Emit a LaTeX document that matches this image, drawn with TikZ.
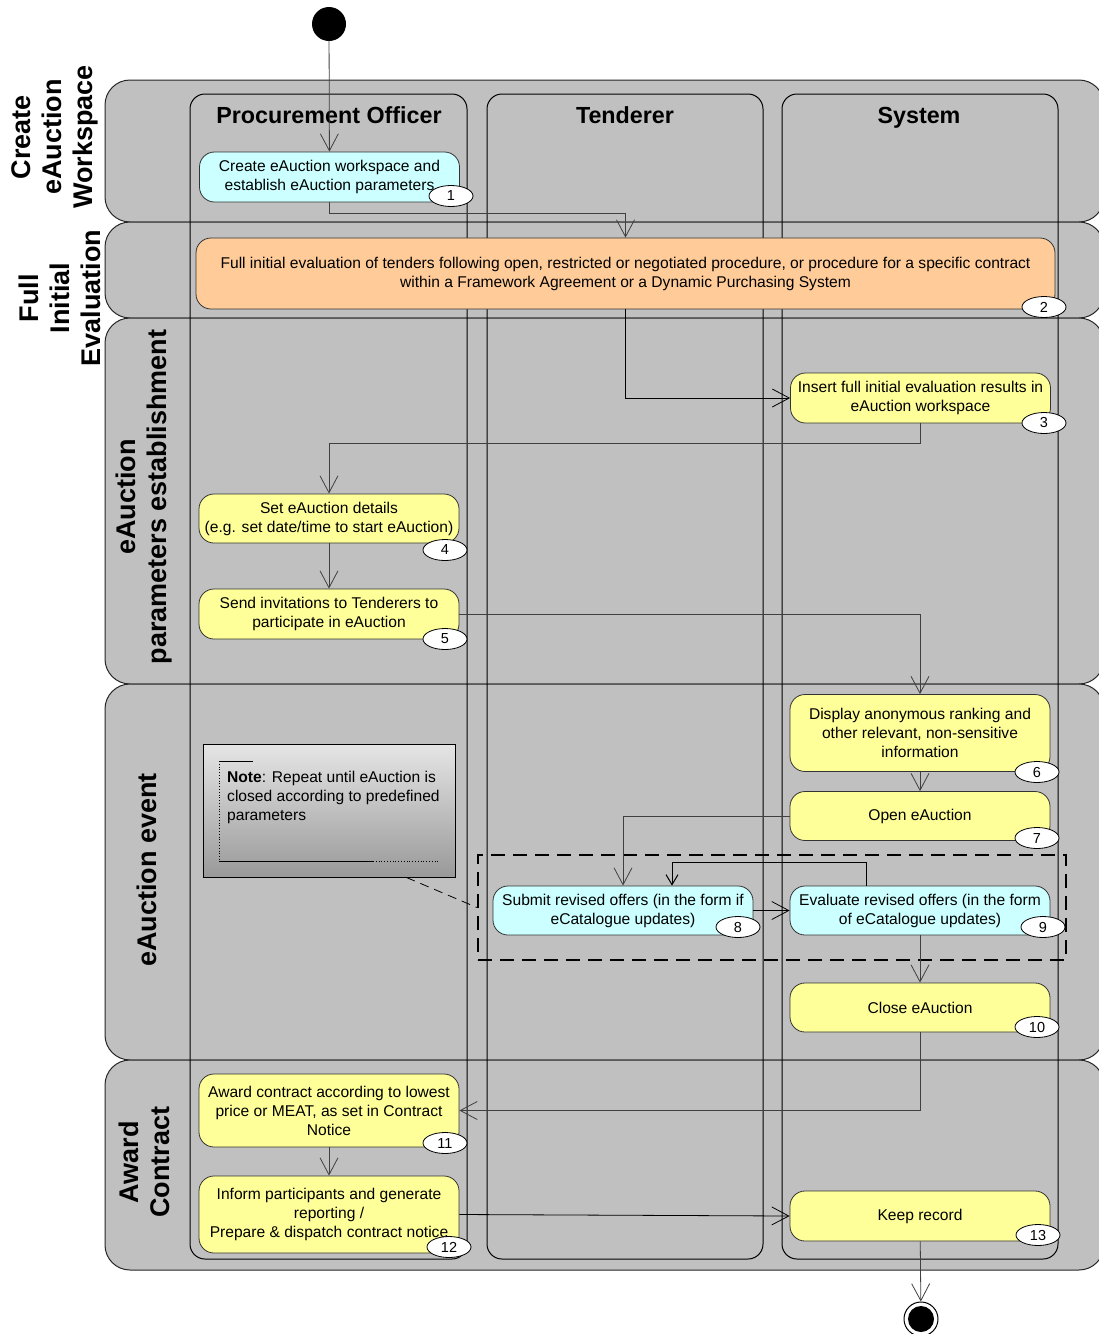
\documentclass[tikz,border=0pt]{standalone}
\usepackage{fontspec}
\setmainfont{Liberation Sans}
\usepackage{tikz}
\usetikzlibrary{
    arrows.meta,
    calc,
    positioning,
    shapes.geometric
}
\definecolor{bandgray}{HTML}{C0C0C0}
\definecolor{taskyellow}{HTML}{FFFF99}
\definecolor{taskcyan}{HTML}{CCFFFF}
\definecolor{taskorange}{HTML}{FFCC99}
\definecolor{flowline}{HTML}{404040}

\begin{document}
\begin{tikzpicture}[x=1pt, y=-1pt,
    band/.style={draw=black!85, fill=bandgray, line width=1pt, rounded corners=25pt},
    lane/.style={draw=black, line width=1pt, rounded corners=15pt},
    phase/.style={rotate=90, align=center, font=\fontsize{27}{31}\selectfont\bfseries},
    header/.style={anchor=base, font=\fontsize{23.3}{27}\selectfont\bfseries},
    act/.style={draw=black!80, line width=0.8pt, rounded corners=15pt,
        minimum width=260pt, minimum height=50pt, align=center, inner sep=2pt,
        font=\fontsize{15.6}{19}\selectfont},
    num/.style={draw=black, fill=white, ellipse, line width=0.8pt, minimum width=44pt,
        minimum height=21pt, inner sep=0pt, font=\fontsize{14.5}{14.5}\selectfont},
    flow/.style={draw=flowline, line width=0.8pt, -{Straight Barb[length=17pt, width=18pt]}},
    backflow/.style={draw=black, line width=1pt, -{Straight Barb[length=10pt, width=12pt]}}
]
    % Canvas
    \useasboundingbox (0,0) rectangle (1099,1334);

    % === Phase bands ===
    \draw[band] (105,80) rectangle (1104,222);
    \draw[band] (105,222) rectangle (1104,318);
    \draw[band] (105,318) rectangle (1104,684);
    \draw[band] (105,684) rectangle (1104,1060);
    \draw[band] (105,1060) rectangle (1104,1270);

    \node[phase] (phCreate) at (55,137) {Create\\eAuction\\Workspace};
    \node[phase] (phEval) at (60,298) {Full\\Initial\\Evaluation};
    \node[phase] (phParam) at (144,497) {eAuction\\parameters establishment};
    \node[phase] (phEvent) at (147,870) {eAuction event};
    \node[phase] (phAward) at (144,1162) {Award\\Contract};

    % === Swimlanes ===
    \draw[lane] (190,94) rectangle (467,1259);
    \draw[lane] (487,94) rectangle (763,1259);
    \draw[lane] (782,94) rectangle (1058,1259);

    \node[header] (hdOfficer) at (329,123) {Procurement Officer};
    \node[header] (hdTenderer) at (625,123) {Tenderer};
    \node[header] (hdSystem) at (919,123) {System};

    % Repeat region
    \node[draw=black, line width=2pt, dash pattern=on 14pt off 8pt,
        minimum width=588pt, minimum height=105pt, inner sep=0pt] (loop) at (772,907.5) {};

    % === Activities ===
    \node[circle, fill=black, minimum size=34pt, inner sep=0pt] (start) at (329,24) {};

    \node[act, fill=taskcyan] (a1) at (329.5,177) {Create eAuction workspace and\\establish eAuction parameters};
    \node[act, fill=taskorange, minimum width=859pt, minimum height=71pt] (a2) at (625.5,273.5)
        {Full initial evaluation of tenders following open, restricted or negotiated procedure, or procedure for a specific contract\\within a Framework Agreement or a Dynamic Purchasing System};
    \node[act, fill=taskyellow] (a3) at (920.5,398) {Insert full initial evaluation results in\\eAuction workspace};
    \node[act, fill=taskyellow, minimum height=49pt] (a4) at (329,518.5) {Set eAuction details\\(e.g. set date/time to start eAuction)};
    \node[act, fill=taskyellow] (a5) at (329,614) {Send invitations to Tenderers to\\participate in eAuction};
    \node[act, fill=taskyellow, minimum height=77pt] (a6) at (920,733) {Display anonymous ranking and\\other relevant, non-sensitive\\information};
    \node[act, fill=taskyellow, minimum height=49pt] (a7) at (920,816) {Open eAuction};
    \node[act, fill=taskcyan, minimum height=49pt] (a8) at (623,910.5) {Submit revised offers (in the form if\\eCatalogue updates)};
    \node[act, fill=taskcyan, minimum height=49pt] (a9) at (920,910.5) {Evaluate revised offers (in the form\\of eCatalogue updates)};
    \node[act, fill=taskyellow, minimum height=49pt] (a10) at (920,1007.5) {Close eAuction};
    \node[act, fill=taskyellow, minimum height=73pt] (a11) at (329,1110.5) {Award contract according to lowest\\price or MEAT, as set in Contract\\Notice};
    \node[act, fill=taskyellow, minimum height=77pt] (a12) at (329,1214.5) {Inform participants and generate\\reporting /\\Prepare \& dispatch contract notice};
    \node[act, fill=taskyellow] (a13) at (920,1216) {Keep record};

    \node[circle, draw=black, line width=1pt, fill=white, minimum size=34pt, inner sep=0pt] (stop) at (921,1319) {};
    \node[circle, fill=black, minimum size=26pt, inner sep=0pt] (stopdot) at (stop) {};

    % Step numbers
    \node[num] (n1) at (451,196) {1};
    \node[num] (n2) at (1044,307) {2};
    \node[num] (n3) at (1044,423) {3};
    \node[num] (n4) at (445,550) {4};
    \node[num] (n5) at (445,639) {5};
    \node[num] (n6) at (1037,772) {6};
    \node[num] (n7) at (1037,838) {7};
    \node[num] (n8) at (738,927) {8};
    \node[num] (n9) at (1043,927) {9};
    \node[num] (n10) at (1037,1027) {10};
    \node[num] (n11) at (445,1143) {11};
    \node[num] (n12) at (449,1247) {12};
    \node[num] (n13) at (1038,1235) {13};

    % === Note ===
    \node[draw=black, line width=1pt, top color=black!10, bottom color=black!40,
        minimum width=252pt, minimum height=133pt, inner sep=0pt] (note) at (329,810.5) {};
    \draw[line width=0.8pt] (253,761) -- (219,761);
    \draw[line width=0.8pt, dotted] (219,761) -- (219,861);
    \draw[line width=0.8pt] (219,861) -- (373,861);
    \draw[line width=0.8pt, dotted] (373,861) -- (438,861);
    \node[anchor=north west, align=left, inner sep=0pt, font=\fontsize{15.6}{19}\selectfont] (notetext) at (227,771)
        {\textbf{Note}: Repeat until eAuction is\\closed according to predefined\\parameters};
    \draw[line width=0.8pt, dash pattern=on 9pt off 6pt] ([xshift=-49pt]note.south east) -- (loop.west);

    % === Flows ===
    \draw[flow] (start) -- (a1);
    \draw[flow] (a1.south) -- ++(0,11) -| (a2.north);
    \draw[flow, draw=black] (a2.south) |- (a3.west);
    \draw[flow] (a3.south) -- ++(0,20) -| (a4.north);
    \draw[flow] (a4) -- (a5);
    \draw[flow] (a5.east) -| (a6.north);
    \draw[flow] (a6) -- (a7);
    \draw[flow] (a7.west) -| (a8.north);
    \draw[backflow] ([xshift=-54pt]a9.north) -- ++(0,-23) -| ([xshift=49pt]a8.north);
    \draw[flow, draw=black] (a8.east) -- (a9.west);
    \draw[flow] (a9) -- (a10);
    \draw[flow] (a10.south) |- (a11.east);
    \draw[flow] (a11) -- (a12);
    \draw[flow, draw=black] (a12.east) -- (a13.west);
    \draw[flow] (a13) -- (stop);
\end{tikzpicture}
\end{document}
